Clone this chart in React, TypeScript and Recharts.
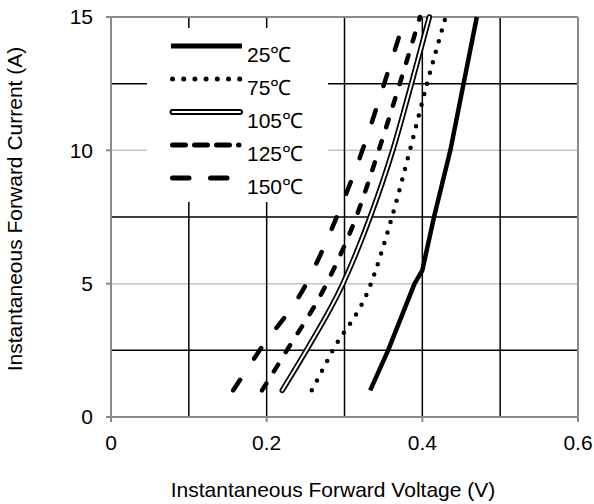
import React from 'react';
import { LineChart, Line, XAxis, YAxis, ReferenceLine, Legend, Label } from 'recharts';

// forward current (A) read at each point
const currents = [1, 2.5, 5, 7.5, 10, 12.5, 15];
const currents25 = [1, 2.5, 5, 5.5, 7.5, 10, 12.5, 15];

// forward voltage (V) per temperature
const v25 = [0.333, 0.356, 0.39, 0.4, 0.415, 0.436, 0.453, 0.47];
const v75 = [0.258, 0.285, 0.334, 0.361, 0.384, 0.406, 0.43];
const v105 = [0.22, 0.251, 0.298, 0.333, 0.362, 0.386, 0.409];
const v125 = [0.194, 0.226, 0.277, 0.315, 0.344, 0.371, 0.397];
const v150 = [0.157, 0.191, 0.251, 0.29, 0.323, 0.351, 0.378];

const xTicks = [0, 0.2, 0.4, 0.6];
const yTicks = [0, 5, 10, 15];
const vGrid = [0.1, 0.2, 0.3, 0.4, 0.5];
const hGridDark = [2.5, 7.5, 12.5];
const hGridLight = [5, 10];

const labels = ['25℃', '75℃', '105℃', '125℃', '150℃'];

const toPoints = (vs: number[], is: number[]) => vs.map((v, k) => ({ v, i: is[k] }));

const d25 = toPoints(v25, currents25);
const d75 = toPoints(v75, currents);
const d105 = toPoints(v105, currents);
const d125 = toPoints(v125, currents);
const d150 = toPoints(v150, currents);

const AXIS = '#8a8a8a';
const FONT = '"Liberation Sans", Arial, sans-serif';
const FS = 21;

const LegendSample = ({ k, y }: { k: number; y: number }) => {
    const x1 = 172.5 - 147;
    const x2 = 240 - 147;
    const common = { x1, x2, y1: y, y2: y, stroke: '#000', strokeLinecap: 'round' as const };
    switch (k) {
        case 0:
            return <line {...common} strokeWidth={5} strokeLinecap="butt" x1={x1 - 1.5} x2={x2 + 2} />;
        case 1:
            return <line {...common} strokeWidth={5} strokeDasharray="0 11.2" />;
        case 2:
            return (
                <g>
                    <line {...common} strokeWidth={6} />
                    <line {...common} stroke="#fff" strokeWidth={2} />
                </g>
            );
        case 3:
            return <line {...common} strokeWidth={5} strokeDasharray="13 9" x2={x2 - 1} />;
        default:
            return <line {...common} strokeWidth={5} strokeDasharray="16.5 21.5" />;
    }
};

const LegendBox = () => (
    <svg width={181} height={174} style={{ display: 'block', background: '#fff', overflow: 'visible' }}>
        {labels.map((name, k) => {
            const y = 18 + 33 * k;
            return (
                <g key={name}>
                    <LegendSample k={k} y={y} />
                    <text x={100} y={y + 16} fontSize={FS} fill="#000" fontFamily={FONT}>
                        {name}
                    </text>
                </g>
            );
        })}
    </svg>
);

const lineProps = { dot: false, activeDot: false, isAnimationActive: false, dataKey: 'i', stroke: '#000' } as const;

export default function App() {
    return (
        <div style={{ position: 'absolute', left: 0, top: 0, width: 594, height: 504, background: '#fff', fontFamily: FONT }}>
            <LineChart width={594} height={504} margin={{ top: 17, right: 16, left: 0, bottom: 0 }}>
                <XAxis
                    dataKey="v"
                    type="number"
                    domain={[0, 0.6]}
                    ticks={xTicks}
                    height={87}
                    axisLine={{ stroke: AXIS, strokeWidth: 2 }}
                    tickLine={{ stroke: AXIS, strokeWidth: 2 }}
                    tickSize={5}
                    tickMargin={13}
                    tick={{ fill: '#000', fontSize: FS }}
                >
                    <Label
                        content={() => (
                            <text x={333} y={497} textAnchor="middle" fontSize={FS} fill="#000">
                                Instantaneous Forward Voltage (V)
                            </text>
                        )}
                    />
                </XAxis>
                <YAxis
                    dataKey="i"
                    type="number"
                    domain={[0, 15]}
                    ticks={yTicks}
                    width={111}
                    axisLine={{ stroke: AXIS, strokeWidth: 2 }}
                    tickLine={{ stroke: AXIS, strokeWidth: 2 }}
                    tickSize={5}
                    tickMargin={13}
                    tick={{ fill: '#000', fontSize: FS }}
                >
                    <Label
                        content={() => (
                            <text x={22} y={209} transform="rotate(-90 22 209)" textAnchor="middle" fontSize={FS} fill="#000">
                                Instantaneous Forward Current (A)
                            </text>
                        )}
                    />
                </YAxis>

                {hGridLight.map((y) => (
                    <ReferenceLine key={`hl${y}`} y={y} stroke="#c4c4c4" strokeWidth={1.5} />
                ))}
                {hGridDark.map((y) => (
                    <ReferenceLine key={`hd${y}`} y={y} stroke="#000" strokeWidth={1.5} />
                ))}
                {vGrid.map((x) => (
                    <ReferenceLine key={`v${x}`} x={x} stroke="#000" strokeWidth={1.5} />
                ))}
                <ReferenceLine y={15} stroke={AXIS} strokeWidth={2} />
                <ReferenceLine x={0.6} stroke={AXIS} strokeWidth={2} />

                <Line {...lineProps} data={d25} strokeWidth={4.5} type="linear" strokeLinejoin="round" />
                <Line {...lineProps} data={d75} strokeWidth={4.5} strokeDasharray="0 11" strokeLinecap="round" type="monotone" />
                <Line {...lineProps} data={d105} strokeWidth={5.5} strokeLinecap="round" strokeLinejoin="round" type="monotone" />
                <Line {...lineProps} data={d105} stroke="#fff" strokeWidth={2} strokeLinecap="round" strokeLinejoin="round" type="monotone" />
                <Line {...lineProps} data={d125} strokeWidth={4.5} strokeDasharray="8 14.5" strokeLinecap="round" type="monotone" />
                <Line {...lineProps} data={d150} strokeWidth={4.5} strokeDasharray="12.5 25.5" strokeLinecap="round" type="monotone" />

                <Legend
                    layout="vertical"
                    align="center"
                    verticalAlign="middle"
                    content={() => <LegendBox />}
                    wrapperStyle={{ left: 147, top: 28, width: 181, height: 174 }}
                />
            </LineChart>
        </div>
    );
}
